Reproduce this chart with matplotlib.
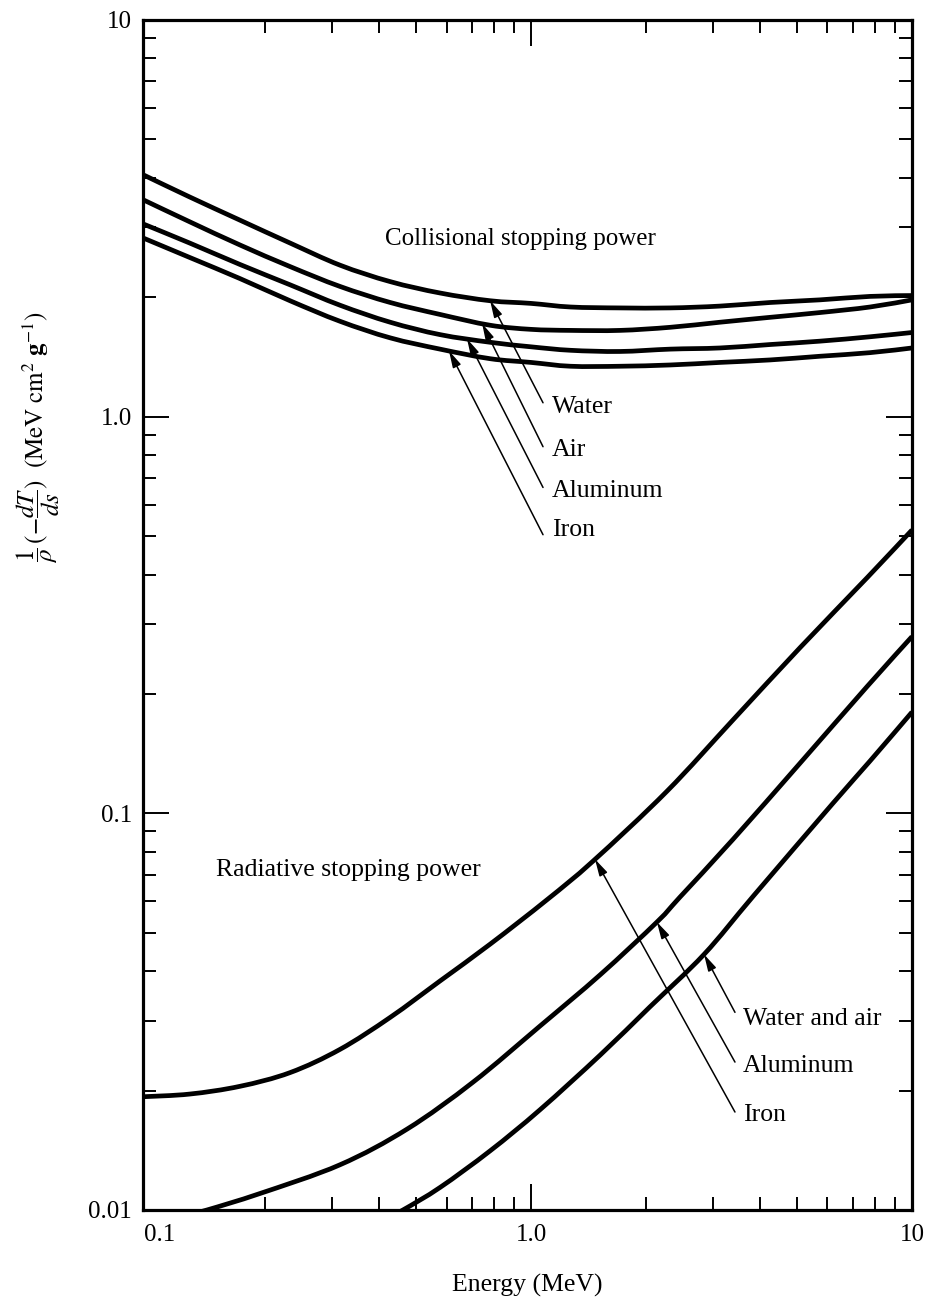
import numpy as np
import matplotlib
matplotlib.use("Agg")
import matplotlib.pyplot as plt
import matplotlib.transforms as mtransforms
from matplotlib.path import Path
from matplotlib.patches import PathPatch
from matplotlib.ticker import FixedLocator, LogLocator, NullFormatter

plt.rcParams['font.family'] = ['Liberation Serif', 'DejaVu Serif']
plt.rcParams['mathtext.fontset'] = 'stix'

# collisional stopping power (MeV cm^2/g), common energy grid (MeV)
e_col = [0.096, 0.127, 0.172, 0.233, 0.315, 0.427, 0.577, 0.781, 1.0,
         1.27, 1.71, 2.32, 3.13, 4.24, 5.73, 7.76, 10.0]
col_water = [4.07, 3.58, 3.13, 2.74, 2.41, 2.19, 2.05, 1.96, 1.93,
             1.89, 1.88, 1.88, 1.90, 1.94, 1.97, 2.01, 2.02]
col_air = [3.52, 3.10, 2.71, 2.39, 2.13, 1.94, 1.81, 1.70, 1.66,
           1.65, 1.65, 1.68, 1.73, 1.78, 1.83, 1.89, 1.97]
col_al = [3.06, 2.74, 2.42, 2.15, 1.91, 1.73, 1.61, 1.54, 1.50,
          1.47, 1.46, 1.48, 1.49, 1.52, 1.55, 1.59, 1.63]
col_fe = [2.82, 2.52, 2.23, 1.96, 1.74, 1.58, 1.48, 1.40, 1.37,
          1.34, 1.34, 1.35, 1.37, 1.39, 1.42, 1.45, 1.49]

# radiative stopping power
e_rad_fe = [0.096, 0.127, 0.172, 0.233, 0.315, 0.427, 0.577, 0.781, 1.10,
            1.455, 2.27, 3.39, 5.09, 7.63, 10.0]
rad_fe = [0.0193, 0.0196, 0.0205, 0.0222, 0.0254, 0.0306, 0.0378, 0.0468, 0.0605,
          0.0758, 0.1135, 0.172, 0.262, 0.393, 0.518]
e_rad_al = [0.12, 0.141, 0.194, 0.315, 0.473, 0.704, 1.056, 1.52, 2.14,
            2.46, 3.39, 5.09, 7.63, 10.0]
rad_al = [0.0096, 0.0100, 0.0110, 0.0130, 0.0160, 0.0210, 0.0291, 0.0392, 0.0532,
          0.0615, 0.0860, 0.134, 0.209, 0.279]
e_rad_wa = [0.40, 0.461, 0.577, 0.781, 1.056, 1.52, 2.05, 2.845, 3.84,
            6.20, 7.76, 10.0]
rad_wa = [0.0093, 0.0100, 0.0114, 0.0141, 0.0179, 0.0246, 0.0325, 0.0441, 0.0620,
          0.1060, 0.1355, 0.180]


def on_curve(e, xs, ys):
    return 10 ** np.interp(np.log10(e), np.log10(xs), np.log10(ys))


def smooth_curve(ax, xs, ys, lw):
    # Catmull-Rom through the points, built as cubic Bezier segments in log space
    pts = np.column_stack([np.log10(xs), np.log10(ys)])
    n = len(pts)
    verts = [pts[0]]
    codes = [Path.MOVETO]
    for i in range(n - 1):
        p0 = pts[max(i - 1, 0)]
        p1 = pts[i]
        p2 = pts[i + 1]
        p3 = pts[min(i + 2, n - 1)]
        verts += [p1 + (p2 - p0) / 6, p2 - (p3 - p1) / 6, p2]
        codes += [Path.CURVE4] * 3
    path = Path(10 ** np.array(verts), codes)
    ax.add_patch(PathPatch(path, fill=False, lw=lw, edgecolor='black',
                           joinstyle='round', capstyle='butt'))


fig = plt.figure(figsize=(9.35, 13.02), dpi=100)
ax = fig.add_axes([143 / 935, 1 - 1210 / 1302, 769 / 935, 1190 / 1302])
ax.set_xscale('log')
ax.set_yscale('log')
ax.set_xlim(0.0958, 10)
ax.set_ylim(0.01, 10)

lw = 3.4
for ys in (col_water, col_air, col_al, col_fe):
    smooth_curve(ax, e_col, ys, lw)
smooth_curve(ax, e_rad_fe, rad_fe, lw)
smooth_curve(ax, e_rad_al, rad_al, lw)
smooth_curve(ax, e_rad_wa, rad_wa, lw)

# axes frame and ticks
for s in ax.spines.values():
    s.set_linewidth(2.3)
ax.xaxis.set_major_locator(FixedLocator([0.1, 1.0, 10.0]))
ax.yaxis.set_major_locator(FixedLocator([0.01, 0.1, 1.0, 10.0]))
ax.set_xticklabels(['0.1', '1.0', '10'])
ax.set_yticklabels(['0.01', '0.1', '1.0', '10'])
ax.xaxis.set_minor_locator(LogLocator(base=10, subs=np.arange(2, 10)))
ax.yaxis.set_minor_locator(LogLocator(base=10, subs=np.arange(2, 10)))
ax.xaxis.set_minor_formatter(NullFormatter())
ax.yaxis.set_minor_formatter(NullFormatter())
ax.tick_params(which='both', direction='in', top=True, right=True, width=1.4,
               labelsize=18)
ax.tick_params(which='major', length=19)
ax.tick_params(which='minor', length=9.5)
ax.tick_params(axis='x', which='major', pad=10)
ax.tick_params(axis='y', which='major', pad=8)

# the 0.1 tick sits right next to the left frame: keep only its label, nudged right
t01 = ax.xaxis.get_major_ticks()[0]
t01.tick1line.set_visible(False)
t01.tick2line.set_visible(False)
t01.label1.set_transform(t01.label1.get_transform() +
                         mtransforms.ScaledTranslation(10 / 100, 0, fig.dpi_scale_trans))

fs = 18.5
ax.set_xlabel('Energy (MeV)', fontsize=fs, labelpad=20)
fig.text(38 / 935, 1 - 437 / 1302,
         r'$\dfrac{1}{\rho}\,(-\dfrac{dT}{ds})\ \ (\mathrm{MeV\ cm^2\ \mathbf{g}^{-1}})$',
         rotation=90, ha='center', va='center', fontsize=18)

ax.text(0.414, 2.81, 'Collisional stopping power', fontsize=18, va='center', ha='left')
ax.text(0.149, 0.0719, 'Radiative stopping power', fontsize=fs, va='center', ha='left')

arrow = dict(arrowstyle='-|>,head_length=0.5,head_width=0.13', color='black',
             lw=1.1, shrinkA=0, shrinkB=0, mutation_scale=20)

# collisional labels: (text, energy at arrow tip, curve, tail y, text y)
col_labels = [
    ('Water', 0.781, col_water, 1.084, 1.06),
    ('Air', 0.744, col_air, 0.840, 0.826),
    ('Aluminum', 0.679, col_al, 0.663, 0.651),
    ('Iron', 0.609, col_fe, 0.504, 0.519),
]
for name, e_tip, ys, y_tail, y_txt in col_labels:
    ax.annotate('', xy=(e_tip, on_curve(e_tip, e_col, ys)), xytext=(1.075, y_tail),
                arrowprops=arrow)
    ax.text(1.135, y_txt, name, fontsize=fs, va='center', ha='left')

rad_labels = [
    ('Water and air', 2.845, e_rad_wa, rad_wa, 0.0315, 0.0303),
    ('Aluminum', 2.14, e_rad_al, rad_al, 0.0236, 0.0231),
    ('Iron', 1.472, e_rad_fe, rad_fe, 0.01766, 0.01735),
]
for name, e_tip, xs, ys, y_tail, y_txt in rad_labels:
    ax.annotate('', xy=(e_tip, on_curve(e_tip, xs, ys)), xytext=(3.43, y_tail),
                arrowprops=arrow)
    ax.text(3.60, y_txt, name, fontsize=fs, va='center', ha='left')

fig.savefig('out.png', dpi=100)
